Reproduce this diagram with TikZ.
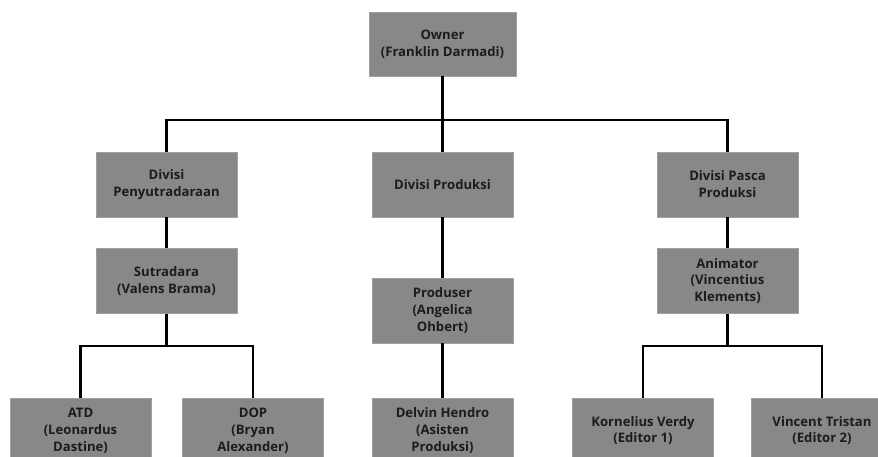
\documentclass[tikz,border=0pt]{standalone}
\usepackage{fontspec}
\setmainfont{Open Sans}
\usepackage{tikz}
\usetikzlibrary{positioning, calc}
\definecolor{boxgray}{RGB}{136,136,136}
\definecolor{txtdark}{RGB}{28,28,28}

\begin{document}
\begin{tikzpicture}[
  x=0.03cm, y=-0.03cm,
  unit/.style={rectangle, fill=boxgray, draw=boxgray!80!white, line width=0.3pt,
               minimum width=4.23cm, minimum height=1.95cm, inner sep=0pt,
               font=\fontsize{11.2}{14.4}\selectfont\bfseries, text=txtdark, align=center},
  link/.style={line width=2pt, black}
]
  \useasboundingbox (0,0) rectangle (878,457);

  %% --- Level 0: owner ---
  \node[unit, minimum width=4.41cm, minimum height=1.92cm]
    (owner) at (442.5,44) {Owner\\(Franklin Darmadi)};

  %% --- Level 1: divisions ---
  \node[unit] (divsut)  at (166.5,184.5) {Divisi\\Penyutradaraan};
  \node[unit] (divprod) at (442.5,184.5) {Divisi Produksi};
  \node[unit] (divpost) at (727.5,184.5) {Divisi Pasca\\Produksi};

  %% --- Level 2: heads ---
  \node[unit] (sutradara) at (166.5,281)   {Sutradara\\(Valens Brama)};
  \node[unit] (produser)  at (442.5,310.5) {Produser\\(Angelica\\Ohbert)};
  \node[unit] (animator)  at (727.5,281)   {Animator\\(Vincentius\\Klements)};

  %% --- Level 3: staff (cut by the page edge) ---
  \node[unit] (atd)    at (80.5,430.5)  {ATD\\(Leonardus\\Dastine)};
  \node[unit] (dop)    at (253,430.5)   {DOP\\(Bryan\\Alexander)};
  \node[unit] (delvin) at (442.5,430.5) {Delvin Hendro\\(Asisten\\Produksi)};
  \node[unit] (korn)   at (643,430.5)   {Kornelius Verdy\\(Editor 1)};
  \node[unit] (vinc)   at (822,430.5)   {Vincent Tristan\\(Editor 2)};

  %% --- Bus points ---
  \coordinate (bustop)   at (442.5,120);
  \coordinate (busleft)  at (166.5,346);
  \coordinate (busright) at (727.5,346);

  %% --- Connectors ---
  %% Owner -> divisions
  \draw[link] (owner.south) -- (divprod.north);
  \draw[link] (divsut.north) |- (bustop) -| (divpost.north);

  %% Divisions -> heads
  \draw[link] (divsut.south)  -- (sutradara.north);
  \draw[link] (divprod.south) -- (produser.north);
  \draw[link] (divpost.south) -- (animator.north);

  %% Heads -> staff
  \draw[link] (sutradara.south) -- (busleft);
  \draw[link] (atd.north) |- (busleft) -| (dop.north);
  \draw[link] (produser.south) -- (delvin.north);
  \draw[link] (animator.south) -- (busright);
  \draw[link] (korn.north) |- (busright) -| (vinc.north);

\end{tikzpicture}
\end{document}
